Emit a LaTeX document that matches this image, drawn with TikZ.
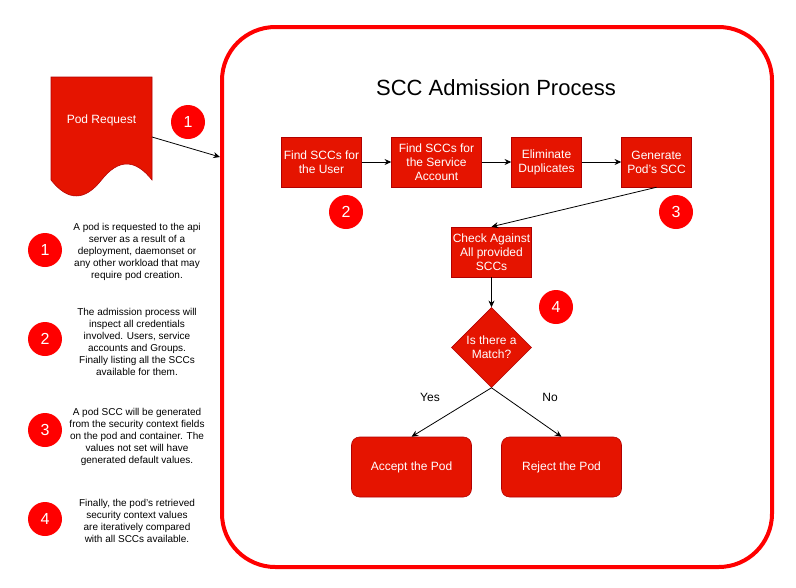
\documentclass[tikz,border=0pt]{standalone}
\usepackage{fontspec}
\setmainfont{Liberation Sans}
\definecolor{sccfill}{HTML}{E51400}
\definecolor{sccline}{HTML}{B20000}
\definecolor{sccmark}{HTML}{FF0000}
\usetikzlibrary{arrows.meta, positioning, shapes.geometric}

\begin{document}
\begin{tikzpicture}[
    x=0.75pt, y=-0.75pt,
    stepbox/.style={draw=sccline, fill=sccfill, text=white, font=\fontsize{9}{10.5}\selectfont, minimum height=37.5pt, inner sep=1pt, align=center},
    endbox/.style={stepbox, rounded corners=6pt, minimum width=90pt, minimum height=45pt},
    decision/.style={stepbox, diamond, minimum width=60pt, minimum height=60pt, inner sep=0pt},
    num/.style={circle, fill=sccmark, text=white, minimum size=25.5pt, inner sep=0pt, font=\fontsize{12}{12}\selectfont},
    note/.style={font=\fontsize{7.5}{9}\selectfont, align=center},
    arrow/.style={-{Stealth[length=5pt, width=4.5pt]}, black, line width=0.6pt}
]
    \useasboundingbox (0,0) rectangle (796,587);

    % Frame of the admission process
    \node[draw=sccmark, line width=3pt, rounded corners=40pt, minimum width=412.5pt, minimum height=405pt] (frame) at (497,297) {};
    \node[font=\fontsize{16.5}{19}\selectfont] (title) at (496,88) {SCC Admission Process};

    % Pod request document
    \draw[sccline, fill=sccfill] (51,77) -- (152,77) -- (152,180)
        .. controls (135.2,158.7) and (118.3,158.7) .. (101.5,180)
        .. controls (84.7,201.3) and (67.8,201.3) .. (51,180) -- cycle;
    \node[text=white, font=\fontsize{9}{10.5}\selectfont] (podreq) at (101.5,120) {Pod Request};
    \coordinate (reqout) at (152,137);
    \coordinate (framein) at (220,157);

    % Steps in sequence
    \node[stepbox, minimum width=60pt] (user) at (321.5,162) {Find SCCs for\\the User};
    \node[stepbox, minimum width=67.5pt] (account) at (436.5,162) {Find SCCs for\\the Service\\Account};
    \node[stepbox, minimum width=52.5pt] (dupes) at (546.5,162) {Eliminate\\Duplicates};
    \node[stepbox, minimum width=52.5pt] (gen) at (656.5,162) {Generate\\Pod's SCC};
    \node[stepbox, minimum width=60pt] (check) at (491.5,252) {Check Against\\All provided\\SCCs};
    \node[decision] (match) at (491.5,347.5) {Is there a\\Match?};
    \node[endbox] (accept) at (411.5,467) {Accept the Pod};
    \node[endbox] (reject) at (561.5,467) {Reject the Pod};

    % Connect steps with arrows
    \draw[arrow] (reqout) -- (framein);
    \draw[arrow] (user) -- (account);
    \draw[arrow] (account) -- (dupes);
    \draw[arrow] (dupes) -- (gen);
    \draw[arrow] (gen.south) -- (check.north);
    \draw[arrow] (check) -- (match);
    \draw[arrow] (match.south) -- (accept.north);
    \draw[arrow] (match.south) -- (reject.north);
    \node[font=\fontsize{9}{10.5}\selectfont] (yes) at (430,397) {Yes};
    \node[font=\fontsize{9}{10.5}\selectfont] (no) at (550,397) {No};

    % Step markers
    \node[num] (m1) at (188,122) {1};
    \node[num] (m2) at (346,212) {2};
    \node[num] (m3) at (676,212) {3};
    \node[num] (m4) at (556,307) {4};

    % Legend
    \node[num] (l1) at (45,250) {1};
    \node[num] (l2) at (45,339) {2};
    \node[num] (l3) at (45,430) {3};
    \node[num] (l4) at (45,519) {4};
    \node[note] (t1) at (137,252) {A pod is requested to the api\\server as a result of a\\deployment, daemonset or\\any other workload that may\\require pod creation.};
    \node[note] (t2) at (137,342) {The admission process will\\inspect all credentials\\involved. Users, service\\accounts and Groups.\\Finally listing all the SCCs\\available for them.};
    \node[note] (t3) at (137,437) {A pod SCC will be generated\\from the security context fields\\on the pod and container. The\\values not set will have\\generated default values.};
    \node[note] (t4) at (137,521) {Finally, the pod's retrieved\\security context values\\are iteratively compared\\with all SCCs available.};
\end{tikzpicture}
\end{document}
